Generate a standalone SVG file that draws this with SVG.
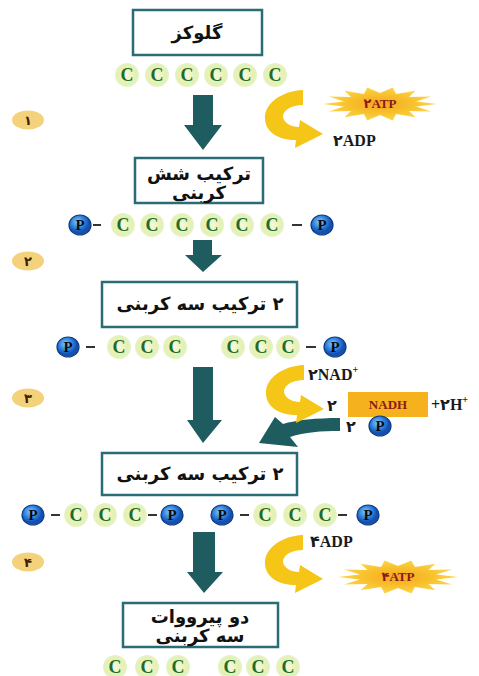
<svg xmlns="http://www.w3.org/2000/svg" xmlns:xlink="http://www.w3.org/1999/xlink" width="479" height="676" viewBox="0 0 479 676">
<style>
.box{fill:#ffffff;stroke:#2a6b78;stroke-width:2.5}
.fa{font-family:"DejaVu Sans",sans-serif;font-weight:bold;font-size:18px;fill:#111;text-anchor:middle;direction:rtl}
.cc{fill:url(#cg)}
.ct{font-family:"Liberation Serif",serif;font-weight:bold;font-size:18px;fill:#1e6b2e;text-anchor:middle}
.pc{fill:url(#pg);stroke:#0d3c80;stroke-width:1.2}
.pt{font-family:"Liberation Serif",serif;font-weight:bold;font-size:15px;fill:#0a0a0a;text-anchor:middle}
.dash{stroke:#333;stroke-width:2}
.dn{fill:#1e5c60}
.yl{fill:#f5c518}
.badge{fill:#f3d27b}
.bt{font-family:"DejaVu Sans",sans-serif;font-weight:bold;font-size:13px;fill:#3a2205;text-anchor:middle}
.lb{font-family:"Liberation Serif","DejaVu Sans",serif;font-weight:bold;font-size:16px;fill:#1a1a1a}
.st{font-family:"Liberation Serif","DejaVu Sans",serif;font-weight:bold;font-size:13px;fill:#8b1a1a;text-anchor:middle}
.sup{font-size:10px}
</style>
<defs>
<radialGradient id="cg"><stop offset="0" stop-color="#f6fbd8"/><stop offset="0.7" stop-color="#e4f1b4"/><stop offset="1" stop-color="#d6eba0" stop-opacity="0.6"/></radialGradient>
<radialGradient id="pg" cx="0.4" cy="0.35"><stop offset="0" stop-color="#8ec8ff"/><stop offset="0.6" stop-color="#2f84e0"/><stop offset="1" stop-color="#1550b0"/></radialGradient>
<radialGradient id="sg"><stop offset="0" stop-color="#f6a623"/><stop offset="0.55" stop-color="#f8c02c"/><stop offset="1" stop-color="#fbd648"/></radialGradient>
<polygon id="star" points="1,0 .634,.145 .901,.434 .508,.405 .624,.782 .282,.586 .223,.975 0,.65 -.223,.975 -.282,.586 -.624,.782 -.508,.405 -.901,.434 -.634,.145 -1,0 -.634,-.145 -.901,-.434 -.508,-.405 -.624,-.782 -.282,-.586 -.223,-.975 0,-.65 .223,-.975 .282,-.586 .624,-.782 .508,-.405 .901,-.434 .634,-.145"/>
<path id="ycurve" d="M303 90 C281 91 264 104 265 119 C266 133 279 140 296 140 L295 148 L323 134 L300 120 L299 127 C291 127 284 123 283 117 C283 110 291 105 303 105 Z"/>
</defs>

<g id="connectors">
<polygon class="dn" points="193,95 213,95 213,125 222,125 203,150 184,125 193,125"/>
<polygon class="dn" points="193,240 212,240 212,255 222,255 203,272 185,255 193,255"/>
<polygon class="dn" points="193,367 213,367 213,420 222,420 203,443 187,420 193,420"/>
<polygon class="dn" points="193,532 215,532 215,572 223,572 204,593 187,572 193,572"/>
<path class="dn" d="M340 418 C316 418 296 420 283 424 L275 417 L259 443 L298 447 L290 437 C305 432 321 431 340 431 Z"/>
<use xlink:href="#ycurve" class="yl"/>
<use xlink:href="#ycurve" class="yl" transform="translate(1,275)"/>
<use xlink:href="#ycurve" class="yl" transform="translate(0,445)"/>
</g>

<g id="step-badges">
<ellipse class="badge" cx="28" cy="120" rx="16" ry="9.5"/><text class="bt" x="28" y="125">۱</text>
<ellipse class="badge" cx="28" cy="261" rx="16" ry="9.5"/><text class="bt" x="28" y="266">۲</text>
<ellipse class="badge" cx="28" cy="398" rx="16" ry="9.5"/><text class="bt" x="28" y="403">۳</text>
<ellipse class="badge" cx="28" cy="562" rx="16" ry="9.5"/><text class="bt" x="28" y="567">۴</text>
</g>

<g id="node-glucose">
<rect class="box" x="133" y="10" width="129" height="45"/>
<text class="fa" x="197" y="39">گلوکز</text>
</g>
<g id="chain-1">
<circle class="cc" cx="127" cy="75" r="12"/><text class="ct" x="127" y="81">C</text>
<circle class="cc" cx="157" cy="75" r="12"/><text class="ct" x="157" y="81">C</text>
<circle class="cc" cx="187" cy="75" r="12"/><text class="ct" x="187" y="81">C</text>
<circle class="cc" cx="216" cy="75" r="12"/><text class="ct" x="216" y="81">C</text>
<circle class="cc" cx="245" cy="75" r="12"/><text class="ct" x="245" y="81">C</text>
<circle class="cc" cx="275" cy="75" r="12"/><text class="ct" x="275" y="81">C</text>
</g>

<g id="energy-1">
<use xlink:href="#star" fill="url(#sg)" transform="translate(380,104) scale(57,17)"/>
<text class="st" x="380" y="108">۲ATP</text>
<text class="lb" x="333" y="146">۲ADP</text>
</g>

<g id="node-six-carbon">
<rect class="box" x="135" y="158" width="128" height="45"/>
<text class="fa" x="199" y="180">ترکیب شش</text>
<text class="fa" x="199" y="199">کربنی</text>
</g>
<g id="chain-2">
<ellipse class="pc" cx="80" cy="225" rx="11" ry="10"/><text class="pt" x="80" y="230">P</text>
<line class="dash" x1="93" y1="225" x2="101" y2="225"/>
<circle class="cc" cx="123" cy="225" r="12"/><text class="ct" x="123" y="231">C</text>
<circle class="cc" cx="152" cy="225" r="12"/><text class="ct" x="152" y="231">C</text>
<circle class="cc" cx="182" cy="225" r="12"/><text class="ct" x="182" y="231">C</text>
<circle class="cc" cx="212" cy="225" r="12"/><text class="ct" x="212" y="231">C</text>
<circle class="cc" cx="242" cy="225" r="12"/><text class="ct" x="242" y="231">C</text>
<circle class="cc" cx="272" cy="225" r="12"/><text class="ct" x="272" y="231">C</text>
<line class="dash" x1="292" y1="225" x2="302" y2="225"/>
<ellipse class="pc" cx="322" cy="225" rx="11" ry="10"/><text class="pt" x="322" y="230">P</text>
</g>

<g id="node-three-carbon-1">
<rect class="box" x="102" y="282" width="195" height="45"/>
<text class="fa" x="200" y="310">۲ ترکیب سه کربنی</text>
</g>
<g id="chain-3">
<ellipse class="pc" cx="68" cy="347" rx="11" ry="10"/><text class="pt" x="68" y="352">P</text>
<line class="dash" x1="86" y1="347" x2="95" y2="347"/>
<circle class="cc" cx="119" cy="347" r="12"/><text class="ct" x="119" y="353">C</text>
<circle class="cc" cx="147" cy="347" r="12"/><text class="ct" x="147" y="353">C</text>
<circle class="cc" cx="175" cy="347" r="12"/><text class="ct" x="175" y="353">C</text>
<circle class="cc" cx="233" cy="347" r="12"/><text class="ct" x="233" y="353">C</text>
<circle class="cc" cx="261" cy="347" r="12"/><text class="ct" x="261" y="353">C</text>
<circle class="cc" cx="288" cy="347" r="12"/><text class="ct" x="288" y="353">C</text>
<line class="dash" x1="306" y1="347" x2="316" y2="347"/>
<ellipse class="pc" cx="335" cy="347" rx="11" ry="10"/><text class="pt" x="335" y="352">P</text>
</g>

<g id="energy-3">
<text class="lb" x="308" y="380">۲NAD<tspan class="sup" dy="-7">+</tspan></text>
<text class="lb" x="327" y="411">۲</text>
<rect x="348" y="392" width="80" height="25" fill="#f5b21e"/>
<text class="st" x="388" y="409">NADH</text>
<text class="lb" x="431" y="410">+۲H<tspan class="sup" dy="-7">+</tspan></text>
<text class="lb" x="346" y="432">۲</text>
<ellipse class="pc" cx="380" cy="426" rx="11" ry="10"/><text class="pt" x="380" y="431">P</text>
</g>

<g id="node-three-carbon-2">
<rect class="box" x="102" y="453" width="195" height="42"/>
<text class="fa" x="200" y="480">۲ ترکیب سه کربنی</text>
</g>
<g id="chain-4">
<ellipse class="pc" cx="33" cy="515" rx="11" ry="10"/><text class="pt" x="33" y="520">P</text>
<line class="dash" x1="51" y1="515" x2="60" y2="515"/>
<circle class="cc" cx="76" cy="515" r="12"/><text class="ct" x="76" y="521">C</text>
<circle class="cc" cx="105" cy="515" r="12"/><text class="ct" x="105" y="521">C</text>
<circle class="cc" cx="135" cy="515" r="12"/><text class="ct" x="135" y="521">C</text>
<line class="dash" x1="148" y1="515" x2="157" y2="515"/>
<ellipse class="pc" cx="172" cy="515" rx="11" ry="10"/><text class="pt" x="172" y="520">P</text>
<ellipse class="pc" cx="222" cy="515" rx="11" ry="10"/><text class="pt" x="222" y="520">P</text>
<line class="dash" x1="240" y1="515" x2="249" y2="515"/>
<circle class="cc" cx="265" cy="515" r="12"/><text class="ct" x="265" y="521">C</text>
<circle class="cc" cx="295" cy="515" r="12"/><text class="ct" x="295" y="521">C</text>
<circle class="cc" cx="325" cy="515" r="12"/><text class="ct" x="325" y="521">C</text>
<line class="dash" x1="338" y1="515" x2="347" y2="515"/>
<ellipse class="pc" cx="368" cy="515" rx="11" ry="10"/><text class="pt" x="368" y="520">P</text>
</g>

<g id="energy-4">
<text class="lb" x="310" y="547">۴ADP</text>
<use xlink:href="#star" fill="url(#sg)" transform="translate(398,577) scale(60,17)"/>
<text class="st" x="398" y="581">۴ATP</text>
</g>

<g id="node-pyruvate">
<rect class="box" x="123" y="603" width="155" height="44"/>
<text class="fa" x="200" y="623">دو پیرووات</text>
<text class="fa" x="200" y="642">سه کربنی</text>
</g>
<g id="chain-5">
<circle class="cc" cx="115" cy="667" r="12"/><text class="ct" x="115" y="673">C</text>
<circle class="cc" cx="147" cy="667" r="12"/><text class="ct" x="147" y="673">C</text>
<circle class="cc" cx="178" cy="667" r="12"/><text class="ct" x="178" y="673">C</text>
<circle class="cc" cx="230" cy="667" r="12"/><text class="ct" x="230" y="673">C</text>
<circle class="cc" cx="258" cy="667" r="12"/><text class="ct" x="258" y="673">C</text>
<circle class="cc" cx="288" cy="667" r="12"/><text class="ct" x="288" y="673">C</text>
</g>
</svg>
